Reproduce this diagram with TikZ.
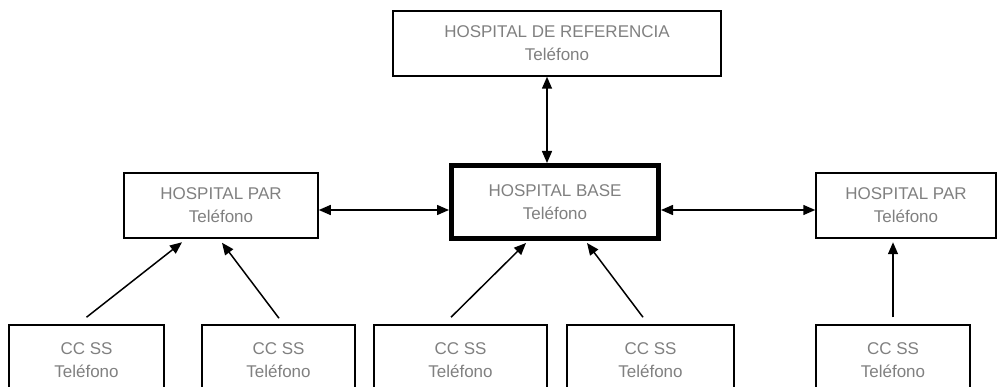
\documentclass[tikz,border=0pt]{standalone}
\usepackage{fontspec}
\setmainfont{Liberation Sans}
\usetikzlibrary{arrows.meta}
\definecolor{textogris}{RGB}{128,128,128}

\begin{document}
\begin{tikzpicture}[x = 1pt, y = -1pt,
	caja/.style = {draw, line width = 1.5pt, inner sep = 0pt, align = center, text = textogris, font = \fontsize{17}{23}\selectfont},
	flecha/.style = {line width = 1.5pt, -{Triangle[length = 12pt, width = 10pt]}},
	dobleflecha/.style = {line width = 1.5pt, {Triangle[length = 12pt, width = 10pt]}-{Triangle[length = 12pt, width = 10pt]}}]
		\useasboundingbox (0,0) rectangle (998,387);
		\node [caja, minimum width = 328pt, minimum height = 65pt] (ref) at (557,43.5) {HOSPITAL DE REFERENCIA\\Teléfono};
		\node [caja, line width = 5pt, minimum width = 207pt, minimum height = 73pt] (base) at (555,202) {HOSPITAL BASE\\Teléfono};
		\node [caja, minimum width = 194pt, minimum height = 65pt] (lpar) at (221,205.5) {HOSPITAL PAR\\Teléfono};
		\node [caja, minimum width = 180pt, minimum height = 65pt] (rpar) at (906,205.5) {HOSPITAL PAR\\Teléfono};
		\node [caja, minimum width = 155pt, minimum height = 70pt] (cc1) at (86.5,360) {CC SS\\Teléfono};
		\node [caja, minimum width = 153pt, minimum height = 70pt] (cc2) at (278.5,360) {CC SS\\Teléfono};
		\node [caja, minimum width = 173pt, minimum height = 70pt] (cc3) at (460.5,360) {CC SS\\Teléfono};
		\node [caja, minimum width = 167pt, minimum height = 70pt] (cc4) at (650.5,360) {CC SS\\Teléfono};
		\node [caja, minimum width = 154pt, minimum height = 70pt] (cc5) at (893,360) {CC SS\\Teléfono};
		\coordinate (eje) at (547,0);
		\coordinate (nivel) at (0,210);
		\draw [dobleflecha] (ref.south -| eje) -- (base.north -| eje);
		\draw [dobleflecha] (lpar.east |- nivel) -- (base.west |- nivel);
		\draw [dobleflecha] (base.east |- nivel) -- (rpar.west |- nivel);
		\draw [flecha] ([shift = {(0,-7)}]cc1.north) -- ([shift = {(-39,3.5)}]lpar.south);
		\draw [flecha] ([shift = {(0.5,-6)}]cc2.north) -- ([shift = {(1,4)}]lpar.south);
		\draw [flecha] ([shift = {(-9.5,-7)}]cc3.north) -- ([shift = {(-29,2)}]base.south);
		\draw [flecha] ([shift = {(-7.5,-7)}]cc4.north) -- ([shift = {(32,2)}]base.south);
		\draw [flecha] ([shift = {(0,-7)}]cc5.north) -- ([shift = {(-13,3.5)}]rpar.south);
	\end{tikzpicture}
\end{document}
